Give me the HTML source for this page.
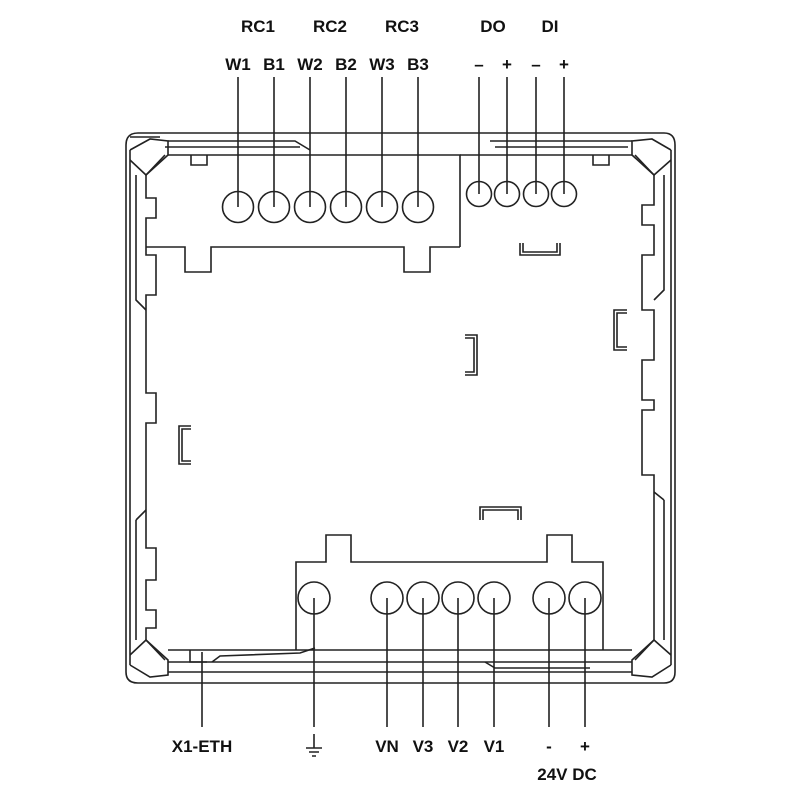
<!DOCTYPE html>
<html><head><meta charset="utf-8"><style>
html,body{margin:0;padding:0;background:#fff}
svg{display:block}
text{font-family:"Liberation Sans",sans-serif;font-weight:bold;font-size:17px;fill:#111;text-anchor:middle}
</style></head><body>
<svg width="800" height="800" viewBox="0 0 800 800">
<g fill="none" stroke="#222" stroke-width="1.6">
<path d="M138,133 H664 Q675,133 675,145 V672 Q675,683 664,683 H138 Q126,683 126,672 V145 Q126,133 138,133 Z"/>
<path d="M130,150 V665"/><path d="M671,150 V665"/>
<path d="M168,141 H295 L310,150"/>
<path d="M490,141 H632"/>
<path d="M168,155 H460 L460,247"/>
<path d="M460,155 H632"/>
<path d="M165,147 H300"/><path d="M495,147 H628"/>
<path d="M130,150 L150,139 L168,141 L168,155 L146,175 L130,160"/>
<path d="M146,175 L165,155"/>
<path d="M671,150 L652,139 L632,141 L632,155 L654,175 L671,160"/>
<path d="M654,175 L635,155"/>
<path d="M130,665 L150,677 L168,675 L168,660 L146,640 L130,655"/>
<path d="M146,640 L165,660"/>
<path d="M671,665 L652,677 L632,675 L632,660 L654,640 L671,655"/>
<path d="M654,640 L635,660"/>
<path d="M191,155 V165 H207 V155"/>
<path d="M593,155 V165 H609 V155"/>
<path d="M146,175 V198 H156 V218 H146 V255 H156 V295 H146 V393 H156 V423 H146 V548 H156 V580 H146 V610 H156 V628 H146 V640"/>
<path d="M136,175 V300 L146,310"/><path d="M136,520 L146,510"/><path d="M136,520 V640"/>
<path d="M654,175 V205 H642 V225 H654 V255 H642 V310 H654 V360 H642 V400 H654 V410 H642 V475 H654 V640"/>
<path d="M664,175 V290 L654,300"/><path d="M664,500 L654,492"/><path d="M664,500 V640"/>
<path d="M146,247 H185 V272 H211 V247 H404 V272 H430 V247 H460"/>
<path d="M168,650 H632"/>
<path d="M168,662 H632"/>
<path d="M168,672 H632"/>
<path d="M130,137 H160"/>
<path d="M190,650 V662 H207"/>
<path d="M212,662 L220,656 L300,653 L315,648"/>
<path d="M485,662 L495,668 L590,668"/>
<path d="M296,650 V562 H326 V535 H351 V562 H547 V535 H572 V562 H603 V650"/>
<path d="M520,243 V255 H560 V243 M523,243 V252 H557 V243"/>
<path d="M465,335 H477 V375 H465 M465,338 H474 V372 H465"/>
<path d="M627,310 H614 V350 H627 M627,313 H617 V347 H627"/>
<path d="M191,426 H179 V464 H191 M191,429 H182 V461 H191"/>
<path d="M480,520 V507 H521 V520 M483,520 V510 H518 V520"/>
<circle cx="238" cy="207" r="15.5"/><circle cx="274" cy="207" r="15.5"/>
<circle cx="310" cy="207" r="15.5"/><circle cx="346" cy="207" r="15.5"/>
<circle cx="382" cy="207" r="15.5"/><circle cx="418" cy="207" r="15.5"/>
<circle cx="479" cy="194" r="12.5"/><circle cx="507" cy="194" r="12.5"/>
<circle cx="536" cy="194" r="12.5"/><circle cx="564" cy="194" r="12.5"/>
<path d="M238,77V207 M274,77V207 M310,77V207 M346,77V207 M382,77V207 M418,77V207 M479,77V194 M507,77V194 M536,77V194 M564,77V194"/>
<circle cx="314" cy="598" r="16"/>
<circle cx="387" cy="598" r="16"/><circle cx="423" cy="598" r="16"/>
<circle cx="458" cy="598" r="16"/><circle cx="494" cy="598" r="16"/>
<circle cx="549" cy="598" r="16"/><circle cx="585" cy="598" r="16"/>
<path d="M314,598V727 M387,598V727 M423,598V727 M458,598V727 M494,598V727 M549,598V727 M585,598V727 M202,652V727"/>
<path d="M314,734V748 M306,748H322 M309,752H319 M312,756H316"/>
</g>
<text x="258" y="32">RC1</text><text x="330" y="32">RC2</text><text x="402" y="32">RC3</text>
<text x="493" y="32">DO</text><text x="550" y="32">DI</text>
<text x="238" y="70">W1</text><text x="274" y="70">B1</text><text x="310" y="70">W2</text>
<text x="346" y="70">B2</text><text x="382" y="70">W3</text><text x="418" y="70">B3</text>
<text x="479" y="70">–</text><text x="507" y="70">+</text><text x="536" y="70">–</text><text x="564" y="70">+</text>
<text x="202" y="752">X1-ETH</text>
<text x="387" y="752">VN</text><text x="423" y="752">V3</text><text x="458" y="752">V2</text><text x="494" y="752">V1</text>
<text x="549" y="752">-</text><text x="585" y="752">+</text>
<text x="567" y="780">24V DC</text>
</svg>
</body></html>
